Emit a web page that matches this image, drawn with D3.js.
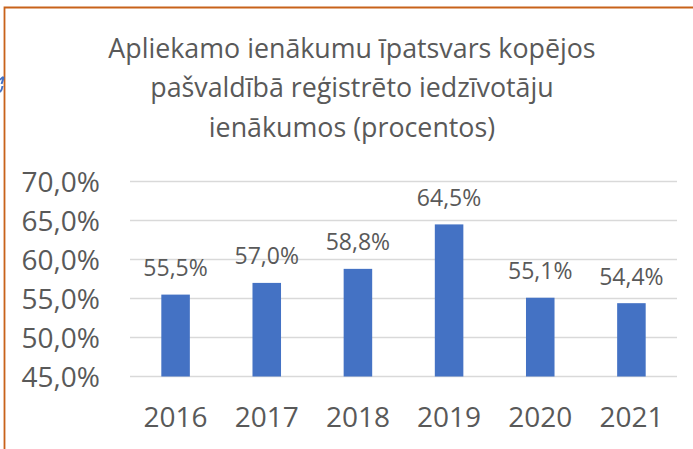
<!DOCTYPE html>
<html>
<head>
<meta charset="utf-8">
<script src="https://cdn.jsdelivr.net/npm/d3@7"></script>
<style>
  body { margin: 0; background: #fff; }
  svg { display: block; font-family: "Open Sans", sans-serif; }
</style>
</head>
<body>
<svg></svg>
<script>
let years = ['2016', '2017', '2018', '2019', '2020', '2021'];
let shares = [55.5, 57.0, 58.8, 64.5, 55.1, 54.4];
let yTicks = [45, 50, 55, 60, 65, 70];
let titleLines = ['Apliekamo ienākumu īpatsvars kopējos', 'pašvaldībā reģistrēto iedzīvotāju', 'ienākumos (procentos)'];

let svgWidth = 693, svgHeight = 449;
let plotLeft = 130, plotRight = 677, plotTop = 181.5, plotBottom = 376.5;
let textColor = '#595959';

let fmt = d => d.toFixed(1).replace('.', ',') + '%';

let svg = d3.select('svg')
            .attr('width', svgWidth)
            .attr('height', svgHeight);

// frame of the chart object (runs off the right and bottom of the picture)
svg.append('path')
   .attr('d', 'M4.5,' + svgHeight + 'V7.5H' + svgWidth)
   .attr('fill', 'none')
   .attr('stroke', '#C8621A')
   .attr('stroke-width', 1.8);

// a sliver of some blue shape just outside the frame
svg.append('path')
   .attr('d', 'M0,80 Q3,76 3.5,78 L1.5,84 M0,92 Q2,90 2.5,86')
   .attr('fill', 'none')
   .attr('stroke', '#4472C4')
   .attr('stroke-width', 2);

let x = d3.scaleBand()
          .domain(years)
          .range([plotLeft, plotRight])
          .paddingInner(0.687)
          .paddingOuter(0.3435);

let y = d3.scaleLinear()
          .domain([45, 70])
          .range([plotBottom, plotTop]);

// gridlines
svg.append('g')
   .selectAll('line')
   .data(yTicks)
   .enter()
   .append('line')
   .attr('x1', plotLeft)
   .attr('x2', plotRight)
   .attr('y1', d => y(d))
   .attr('y2', d => y(d))
   .attr('stroke', '#D9D9D9')
   .attr('stroke-width', 1.5);

// y axis labels
let yAxis = svg.append('g')
               .attr('transform', 'translate(100,0)')
               .call(d3.axisLeft(y).tickValues(yTicks).tickFormat(fmt).tickSize(0).tickPadding(0));
yAxis.select('.domain').remove();
yAxis.selectAll('text')
     .attr('font-family', '"Open Sans", sans-serif')
     .attr('font-size', 28)
     .attr('fill', textColor)
     .attr('dy', 10);

// x axis labels
let xAxis = svg.append('g')
               .attr('transform', 'translate(0,' + plotBottom + ')')
               .call(d3.axisBottom(x).tickSize(0).tickPadding(0));
xAxis.select('.domain').remove();
xAxis.selectAll('text')
     .attr('font-family', '"Open Sans", sans-serif')
     .attr('font-size', 28)
     .attr('fill', textColor)
     .attr('y', 50.5)
     .attr('dy', 0);

// bars
svg.append('g')
   .selectAll('rect')
   .data(shares)
   .enter()
   .append('rect')
   .attr('x', (d, i) => x(years[i]))
   .attr('y', d => y(d))
   .attr('width', x.bandwidth())
   .attr('height', d => plotBottom - y(d))
   .attr('fill', '#4472C4');

// data labels
svg.append('g')
   .selectAll('text')
   .data(shares)
   .enter()
   .append('text')
   .attr('x', (d, i) => x(years[i]) + x.bandwidth() / 2)
   .attr('y', d => y(d) - 18.5)
   .attr('text-anchor', 'middle')
   .attr('font-size', 23)
   .attr('fill', textColor)
   .text(fmt);

// title
svg.append('g')
   .selectAll('text')
   .data(titleLines)
   .enter()
   .append('text')
   .attr('x', 352)
   .attr('y', (d, i) => 58 + i * 39.3)
   .attr('text-anchor', 'middle')
   .attr('font-size', 26.8)
   .attr('fill', textColor)
   .text(d => d);
</script>
</body>
</html>
